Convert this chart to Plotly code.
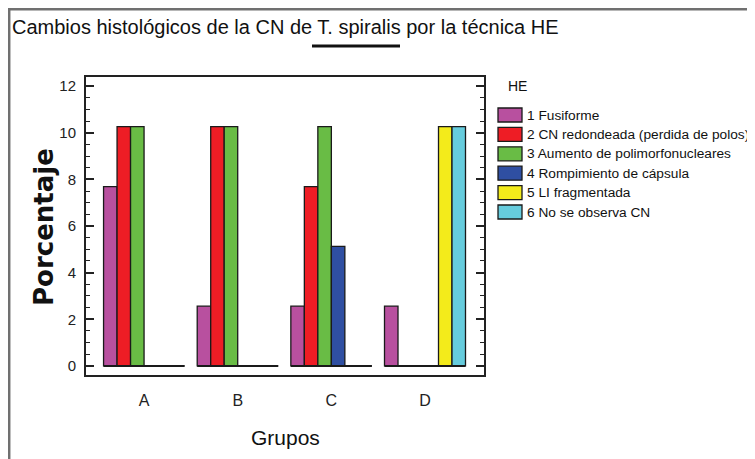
import plotly.graph_objects as go

# ---- data ----
groups = ["A", "B", "C", "D"]
series_names = [
    "1 Fusiforme",
    "2 CN redondeada (perdida de polos)",
    "3 Aumento de polimorfonucleares",
    "4 Rompimiento de cápsula",
    "5 LI fragmentada",
    "6 No se observa CN",
]
fusiforme = [7.69, 2.56, 2.56, 2.56]
cn_redondeada = [10.26, 10.26, 7.69, 0]
aumento_pmn = [10.26, 10.26, 10.26, 0]
rompimiento = [0, 0, 5.13, 0]
li_fragmentada = [0, 0, 0, 10.26]
no_observa = [0, 0, 0, 10.26]
series_values = [fusiforme, cn_redondeada, aumento_pmn, rompimiento, li_fragmentada, no_observa]
colors = ["#B8509F", "#EE1D25", "#69BC45", "#2F4FA2", "#F3EB1B", "#66CCDD"]
y_ticks = [0, 2, 4, 6, 8, 10, 12]

title_pre = "Cambios histológicos de la CN de "
title_mid = "T. spiralis"
title_post = " por la técnica HE"
legend_title = "HE"

# page has an 8px body margin: figure drawn at (8, 8)
OFF = 8
W, H = 755 - OFF, 459 - OFF
RL, RR, RT, RB = 86, 484, 77, 375          # plot box in page pixels
L, T = RL - OFF, RT - OFF
R, B = W - (RR - OFF), H - (RB - OFF)
FONT = "Liberation Sans, Arial, sans-serif"
BARGAP = 0.135


def px(xp):
    return (xp - RL) / (RR - RL)


def py(yp):
    return (RB - yp) / (RB - RT)


fig = go.Figure()
for name, vals, col in zip(series_names, series_values, colors):
    fig.add_trace(go.Bar(
        x=groups, y=vals, name=name, showlegend=False,
        marker=dict(color=col, line=dict(color="#1a1a1a", width=1.3)),
    ))

shapes = []
annotations = []

# baseline under each group (zero-height bars drawn as a line)
half = (1 - BARGAP) / 2
for i, g in enumerate(groups):
    shapes.append(dict(type="line", xref="x", yref="y", x0=i - half, x1=i + half,
                       y0=0, y1=0, line=dict(color="#1a1a1a", width=2)))

# figure border (top and left)
shapes.append(dict(type="line", xref="paper", yref="paper", x0=px(8), x1=px(770),
                   y0=py(9.2), y1=py(9.2), line=dict(color="#707070", width=2.5)))
shapes.append(dict(type="line", xref="paper", yref="paper", x0=px(9.2), x1=px(9.2),
                   y0=py(8), y1=py(470), line=dict(color="#707070", width=2.5)))

# title
annotations.append(dict(text=title_pre + title_mid + title_post, xref="paper", yref="paper",
                        x=px(10), y=py(27), xanchor="left", yanchor="middle", showarrow=False,
                        font=dict(family=FONT, size=20, color="#111")))
shapes.append(dict(type="line", xref="paper", yref="paper", x0=px(312), x1=px(400),
                   y0=py(46), y1=py(46), line=dict(color="#111", width=3)))

# axis titles
annotations.append(dict(text="Porcentaje", xref="paper", yref="paper", x=px(44), y=py(227),
                        textangle=-90, showarrow=False, xanchor="center", yanchor="middle",
                        font=dict(family="DejaVu Sans, sans-serif", size=26, color="#111",
                                  weight="bold")))
annotations.append(dict(text="Grupos", xref="paper", yref="paper", x=px(285), y=py(437),
                        showarrow=False, xanchor="center", yanchor="middle",
                        font=dict(family=FONT, size=21, color="#111")))

# custom legend
annotations.append(dict(text=legend_title, xref="paper", yref="paper", x=px(506), y=py(86),
                        xanchor="left", yanchor="middle", showarrow=False,
                        font=dict(family=FONT, size=14, color="#111")))
y0_leg, dy_leg = 115, 19.4
for k, (name, col) in enumerate(zip(series_names, colors)):
    yc = y0_leg + k * dy_leg
    shapes.append(dict(type="rect", xref="paper", yref="paper",
                       x0=px(498), x1=px(522), y0=py(yc + 7), y1=py(yc - 7),
                       fillcolor=col, line=dict(color="#1a1a1a", width=1.3)))
    annotations.append(dict(text=name, xref="paper", yref="paper", x=px(525), y=py(yc),
                            xanchor="left", yanchor="middle", showarrow=False,
                            font=dict(family=FONT, size=13.7, color="#111")))

fig.update_layout(
    width=W, height=H,
    margin=dict(l=L, r=R, t=T, b=B, pad=0),
    paper_bgcolor="white", plot_bgcolor="white",
    barmode="group", bargap=BARGAP, bargroupgap=0,
    shapes=shapes, annotations=annotations,
    showlegend=False,
    font=dict(family=FONT, color="#111"),
)
fig.update_xaxes(
    type="category", range=[-0.62, 3.63],
    showline=True, mirror=True, linecolor="#222", linewidth=2,
    ticks="", showgrid=False, zeroline=False,
    tickfont=dict(family=FONT, size=16, color="#222"),
    ticklabelstandoff=10,
)
fig.update_yaxes(
    range=[-0.39, 12.39], tickvals=y_ticks,
    showline=True, mirror="allticks", linecolor="#222", linewidth=2,
    ticks="inside", ticklen=8, tickwidth=1.5, tickcolor="#222",
    minor=dict(dtick=0.5, ticks="inside", ticklen=4, tickwidth=1.3, tickcolor="#222"),
    showgrid=False, zeroline=False,
    tickfont=dict(family=FONT, size=15, color="#222"),
    ticklabelstandoff=5,
)

fig.write_html("out.html")
